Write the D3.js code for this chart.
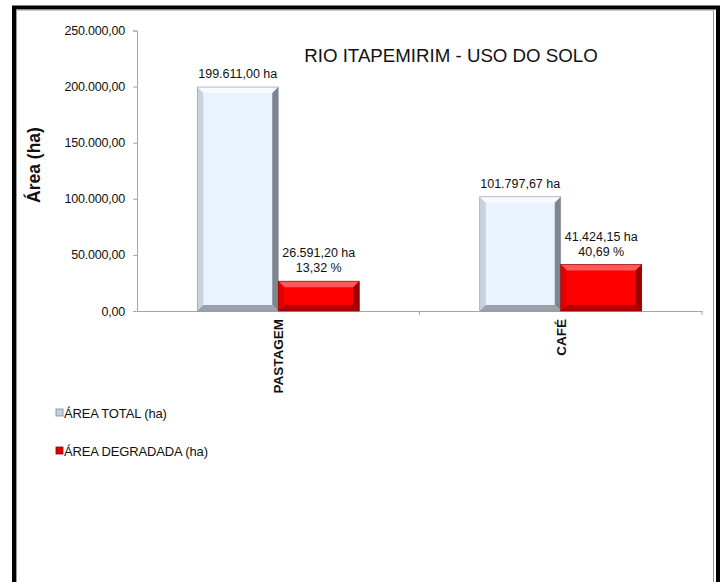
<!DOCTYPE html>
<html><head><meta charset="utf-8">
<script src="https://cdn.jsdelivr.net/npm/d3@7"></script>
<style>
body{margin:0;background:#fff;}
text{font-family:"Liberation Sans",Arial,sans-serif;}
</style></head>
<body><svg id="c" width="725" height="582"></svg>
<script>
const categories = ["PASTAGEM", "CAFÉ"];
const seriesNames = ["ÁREA TOTAL (ha)", "ÁREA DEGRADADA (ha)"];
const areaTotal = [199611.00, 101797.67];
const areaDegradada = [26591.20, 41424.15];
const percentDegradada = ["13,32 %", "40,69 %"];
const yTicks = [0, 50000, 100000, 150000, 200000, 250000];
const chartTitle = "RIO ITAPEMIRIM - USO DO SOLO";
const yTitle = "Área (ha)";

const svg = d3.select("#c");
const fmt = v => d3.formatLocale({decimal:",", thousands:".", grouping:[3], currency:["",""]}).format(",.2f")(v);

// frame
svg.append("rect").attr("x",14).attr("y",7.5).attr("width",704).attr("height",600)
  .attr("fill","none").attr("stroke","#000").attr("stroke-width",4);
svg.append("rect").attr("x",16.5).attr("y",10).attr("width",697).attr("height",600)
  .attr("fill","none").attr("stroke","#999").attr("stroke-width",1);

const pLeft = 137, pRight = 702, pTop = 30.5, pBase = 311;
const y = d3.scaleLinear().domain([0,250000]).range([pBase, pTop]);
const x0 = d3.scaleBand().domain(categories).range([pLeft, pRight]).padding(0);
const x1 = d3.scaleBand().domain([0,1]).range([0, x0.bandwidth()]).paddingInner(0).paddingOuter(0.744);

// y axis
const yAxis = svg.append("g").attr("transform",`translate(${pLeft},0)`)
  .call(d3.axisLeft(y).tickValues(yTicks).tickFormat(fmt).tickSize(4).tickPadding(8));
yAxis.select(".domain").attr("stroke","#a6a6a6");
yAxis.selectAll(".tick line").attr("stroke","#a6a6a6");
yAxis.selectAll("text").attr("font-size",12.5).attr("fill","#111").attr("letter-spacing",-0.2);

// x axis
const xAxis = svg.append("g").attr("transform",`translate(0,${pBase})`)
  .call(d3.axisBottom(x0).tickSize(0).tickFormat(""));
xAxis.select(".domain").attr("stroke","#a6a6a6");
const bounds = [pLeft + x0.step(), pRight];
svg.selectAll(".sep").data(bounds).join("line")
  .attr("x1",d=>d).attr("x2",d=>d).attr("y1",pBase).attr("y2",pBase+4)
  .attr("stroke","#a6a6a6");

// category labels
svg.selectAll(".cat").data(categories).join("text")
  .attr("transform",d=>`translate(${x0(d)+x0.bandwidth()/2+5},${pBase+8}) rotate(-90)`)
  .attr("text-anchor","end").attr("font-size",13.5).attr("font-weight","bold").attr("fill","#111")
  .text(d=>d);

const styles = [
  {fill:"#EAF3FD", top:"#F7FAFE", leftc:"#C9D2DC", rightc:"#7D868F", bottom:"#9AA3AC", stroke:"#8A939C"},
  {fill:"#FF0000", top:"#FF5A5A", leftc:"#E00000", rightc:"#9A0000", bottom:"#B00000", stroke:"#8A0000"}
];
const bev = 6;
function drawBar(g, x, yT, w, h, s){
  g.append("rect").attr("x",x).attr("y",yT).attr("width",w).attr("height",h).attr("fill",s.fill);
  const b = Math.min(bev, h/2, w/2);
  const P = pts => pts.map(p=>p.join(",")).join(" ");
  g.append("polygon").attr("points",P([[x,yT],[x+w,yT],[x+w-b,yT+b],[x+b,yT+b]])).attr("fill",s.top);
  g.append("polygon").attr("points",P([[x,yT],[x+b,yT+b],[x+b,yT+h-b],[x,yT+h]])).attr("fill",s.leftc);
  g.append("polygon").attr("points",P([[x+w,yT],[x+w,yT+h],[x+w-b,yT+h-b],[x+w-b,yT+b]])).attr("fill",s.rightc);
  g.append("polygon").attr("points",P([[x,yT+h],[x+b,yT+h-b],[x+w-b,yT+h-b],[x+w,yT+h]])).attr("fill",s.bottom);
  g.append("rect").attr("x",x).attr("y",yT).attr("width",w).attr("height",h)
    .attr("fill","none").attr("stroke",s.stroke).attr("stroke-width",0.6);
}
const bars = svg.append("g");
const series = [areaTotal, areaDegradada];
categories.forEach((c,i)=>{
  series.forEach((vals,si)=>{
    const bx = x0(c)+x1(si), w = x1.bandwidth();
    drawBar(bars, bx, y(vals[i]), w, pBase - y(vals[i]), styles[si]);
    const cx = bx + w/2;
    if(si===0){
      svg.append("text").attr("x",cx).attr("y",y(vals[i])-9).attr("text-anchor","middle")
        .attr("font-size",12.5).attr("fill","#111").text(fmt(vals[i])+" ha");
    } else {
      svg.append("text").attr("x",cx).attr("y",y(vals[i])-24).attr("text-anchor","middle")
        .attr("font-size",12.5).attr("fill","#111").text(fmt(vals[i])+" ha");
      svg.append("text").attr("x",cx).attr("y",y(vals[i])-9).attr("text-anchor","middle")
        .attr("font-size",12.5).attr("fill","#111").text(percentDegradada[i]);
    }
  });
});

// title
svg.append("text").attr("x",451).attr("y",62).attr("text-anchor","middle")
  .attr("font-size",18.7).attr("fill","#111").text(chartTitle);
// y title
svg.append("text").attr("transform","translate(40,165) rotate(-90)").attr("text-anchor","middle")
  .attr("font-size",17.5).attr("font-weight","bold").attr("fill","#111").text(yTitle);

// legend
const leg = svg.append("g");
seriesNames.forEach((n,i)=>{
  const ly = 413 + i*38;
  leg.append("rect").attr("x",56).attr("y",ly-4).attr("width",7).attr("height",7)
    .attr("fill",i===0?"#C8D0DA":"#E00000").attr("stroke",i===0?"#7D868F":"#8A0000").attr("stroke-width",0.8);
  leg.append("text").attr("x",64).attr("y",ly+5).attr("font-size",13).attr("letter-spacing",-0.15)
    .attr("fill","#111").text(n);
});
</script></body></html>
